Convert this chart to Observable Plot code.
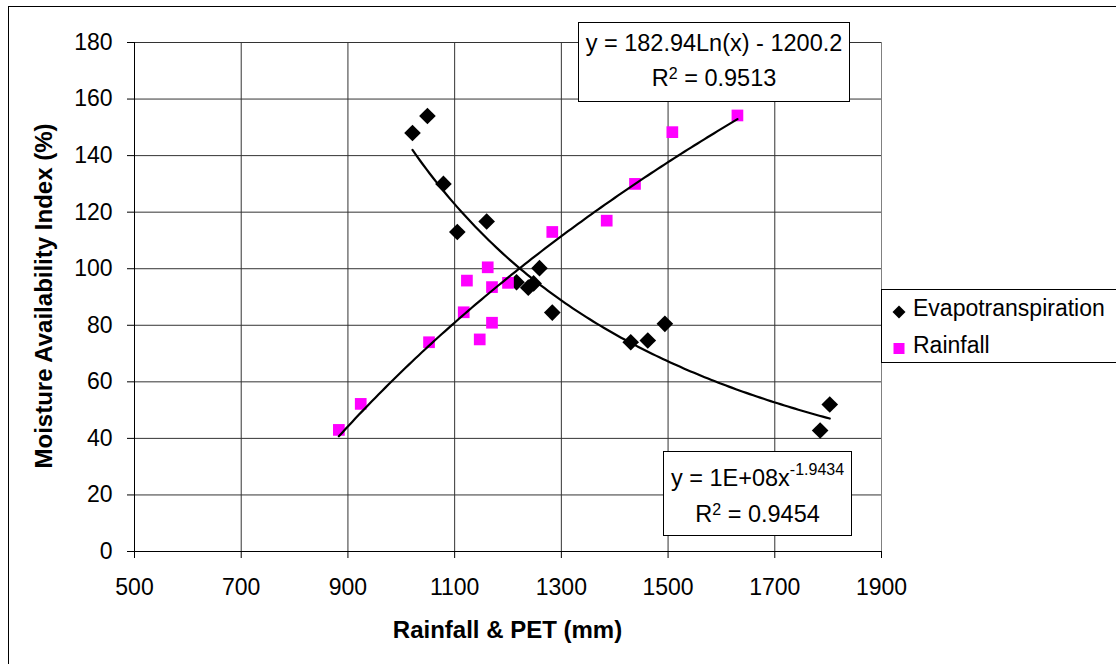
<!DOCTYPE html>
<html>
<head>
<meta charset="utf-8">
<script src="https://cdn.jsdelivr.net/npm/d3@7"></script>
<script src="https://cdn.jsdelivr.net/npm/@observablehq/plot@0.6"></script>
<style>
  body { margin: 0; background: #fff; }
  #chart { position: relative; width: 1116px; height: 664px; overflow: hidden;
           font-family: "Liberation Sans", Arial, sans-serif; color: #000; background: #fff; }
  #chart svg { position: absolute; left: 0; top: 0; }
  .frame { position: absolute; left: 8px; top: 6px; width: 1200px; height: 700px; border: 1px solid #000; }
  .t { position: absolute; white-space: nowrap; line-height: 1; }
  .box { position: absolute; box-sizing: border-box; border: 1px solid #000; background: #fff; }
  .box .line { position: absolute; left: 0; width: 100%; text-align: center; font-size: 23.5px; line-height: 1; white-space: nowrap; }
  .sup { font-size: 16px; position: relative; }
  .legend { position: absolute; left: 881px; top: 289px; width: 300px; height: 74px; box-sizing: border-box;
            border: 1px solid #000; background: #fff; }
</style>
</head>
<body>
<div id="chart"><div class="frame"></div></div>
<script>
// Evapotranspiration (x = PET, mm) against moisture availability index (%)
const etX = [1021, 1049, 1079, 1105, 1160, 1216, 1238, 1248, 1259, 1283, 1430, 1462, 1494, 1785, 1803];
const etY = [148, 154, 130, 113, 116.7, 95.2, 93.3, 94.8, 100.2, 84.5, 74, 74.6, 80.5, 42.8, 52];

// Rainfall (x = rainfall, mm) against moisture availability index (%)
const rainX = [883, 924, 1052, 1117, 1123, 1147, 1162, 1170, 1170, 1200, 1283, 1385, 1438, 1508, 1630];
const rainY = [43, 52.2, 74, 84.6, 95.8, 75, 100.5, 93.5, 80.9, 95, 113, 117, 130, 148.3, 154.2];

const seriesNames = ["Evapotranspiration", "Rainfall"];
const xTicks = [500, 700, 900, 1100, 1300, 1500, 1700, 1900];
const yTicks = [0, 20, 40, 60, 80, 100, 120, 140, 160, 180];

// Trendline coefficients as printed on the chart
const logSlope = 182.94, logIntercept = -1200.2, logR2 = "0.9513";
const powCoef = 1e8, powExp = -1.9434, powR2 = "0.9454";

const et = etX.map((x, i) => ({x, y: etY[i]}));
const rain = rainX.map((x, i) => ({x, y: rainY[i]}));

function curve(xs, f) {
  const [a, b] = d3.extent(xs);
  return d3.range(0, 121).map(i => { const x = a + (b - a) * i / 120; return {x, y: f(x)}; });
}
const etTrend = curve(etX, x => powCoef * Math.pow(x, powExp));
const rainTrend = curve(rainX, x => logSlope * Math.log(x) + logIntercept);

const gridColor = "#333";
const plain = d3.format("d");

const chart = Plot.plot({
  width: 1116,
  height: 664,
  marginLeft: 134,
  marginRight: 235,
  marginTop: 42,
  marginBottom: 113,
  x: {domain: [500, 1900]},
  y: {domain: [0, 180]},
  style: {fontFamily: "'Liberation Sans', Arial, sans-serif", fontSize: "23px", color: "#000", background: "transparent", overflow: "visible"},
  marks: [
    Plot.gridY(yTicks, {stroke: gridColor, strokeOpacity: 1}),
    Plot.gridX(xTicks, {stroke: gridColor, strokeOpacity: 1}),
    Plot.ruleX([1900], {stroke: "#808080"}),
    Plot.axisY(yTicks, {tickSize: 7, tickPadding: 15, label: null, fontSize: 23, tickFormat: plain}),
    Plot.axisX(xTicks, {tickSize: 7, tickPadding: 20, label: null, fontSize: 23, tickFormat: plain}),
    Plot.ruleY([0], {stroke: "#000"}),
    Plot.ruleX([500], {stroke: "#000"}),
    Plot.dot(et, {x: "x", y: "y", symbol: "diamond2", r: 7.5, fill: "#000", stroke: "none"}),
    Plot.dot(rain, {x: "x", y: "y", symbol: "square", r: 6.6, fill: "#FF00FF", stroke: "none"}),
    Plot.line(etTrend, {x: "x", y: "y", stroke: "#000", strokeWidth: 2.2}),
    Plot.line(rainTrend, {x: "x", y: "y", stroke: "#000", strokeWidth: 2.2})
  ]
});

const root = document.getElementById("chart");
root.appendChild(chart);

// Text placed by its baseline (line-height 1, Liberation Sans metrics)
function addText(txt, left, baseline, size, extra = {}) {
  const el = document.createElement("div");
  el.className = "t";
  el.textContent = txt;
  el.style.fontSize = size + "px";
  el.style.left = left + "px";
  el.style.top = (baseline - 0.8465 * size) + "px";
  Object.assign(el.style, extra);
  root.appendChild(el);
  return el;
}

// Axis titles
addText("Rainfall & PET (mm)", 507.5, 638, 24, {fontWeight: "bold", transform: "translateX(-50%)"});
const yt = document.createElement("div");
yt.className = "t";
yt.textContent = "Moisture Availability Index (%)";
Object.assign(yt.style, {fontSize: "24px", fontWeight: "bold", left: "44px", top: "296px",
  transform: "translate(-50%, -50%) rotate(-90deg)"});
root.appendChild(yt);

// Equation boxes
function eqBox(left, top, width, height, lines) {
  const b = document.createElement("div");
  b.className = "box";
  Object.assign(b.style, {left: left + "px", top: top + "px", width: width + "px", height: height + "px"});
  lines.forEach(([html, baseline]) => {
    const l = document.createElement("div");
    l.className = "line";
    l.innerHTML = html;
    l.style.top = (baseline - 0.8465 * 23.5) + "px";
    b.appendChild(l);
  });
  root.appendChild(b);
}
eqBox(578, 22, 272, 80, [
  [`y = ${logSlope}Ln(x) - ${Math.abs(logIntercept)}`, 29],
  [`R<span class="sup" style="top:-7.5px">2</span> = ${logR2}`, 64]
]);
eqBox(663, 451, 189, 85, [
  [`y = 1E+08x<span class="sup" style="top:-10.5px">${powExp}</span>`, 34.7],
  [`R<span class="sup" style="top:-7.5px">2</span> = ${powR2}`, 71]
]);

// Legend
const lg = document.createElement("div");
lg.className = "legend";
lg.innerHTML = `
  <svg width="30" height="74" style="position:absolute;left:0;top:0">
    <polygon points="17,15.5 23.5,22 17,28.5 10.5,22" fill="#000"></polygon>
    <rect x="11.5" y="53" width="11" height="11" fill="#FF00FF"></rect>
  </svg>`;
root.appendChild(lg);
addText(seriesNames[0], 913, 316.7, 23);
addText(seriesNames[1], 913, 353, 23);
</script>
</body>
</html>
